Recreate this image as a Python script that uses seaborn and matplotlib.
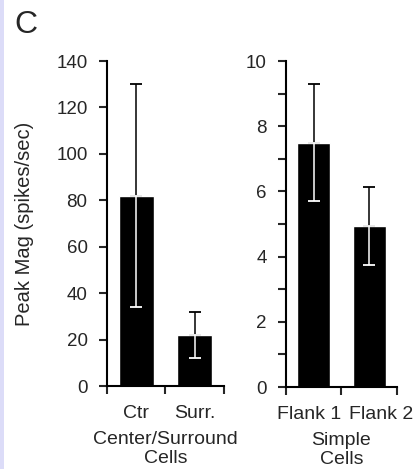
import numpy as np
import pandas as pd
import matplotlib
matplotlib.use("Agg")
import matplotlib.pyplot as plt
import matplotlib.transforms as mtransforms
from matplotlib.patches import Rectangle
import seaborn as sns

# Peak response magnitudes (spikes/sec), mean and error for each cell class
cs_labels = ["Ctr", "Surr."]
cs_means = [82, 22]
cs_errors = [48, 10]

simple_labels = ["Flank 1", "Flank 2"]
simple_means = [7.5, 4.95]
simple_errors = [1.8, 1.2]

cs_yticks = [0, 20, 40, 60, 80, 100, 120, 140]
simple_yticks = [0, 2, 4, 6, 8, 10]
simple_minor_yticks = [1, 3, 5, 7, 9]

sns.set_style("ticks")
plt.rcParams["font.family"] = ["Liberation Sans", "DejaVu Sans"]

fig = plt.figure(figsize=(4.14, 4.69), dpi=100)
fig.patch.set_facecolor("white")
fig.patches.append(Rectangle((0, 0), 4 / 414, 1, transform=fig.transFigure,
                             facecolor="#dcdcf8", edgecolor="none", zorder=0))

ax1 = fig.add_axes([107 / 414, 83 / 469, 117 / 414, 325 / 469])
ax2 = fig.add_axes([286 / 414, 82 / 469, 111 / 414, 326 / 469])


def draw_panel(ax, labels, means, errors, ymax, yticks, xlabel, minor=None, shifts=None):
    df = pd.DataFrame({"cond": labels, "mag": means})
    sns.barplot(data=df, x="cond", y="mag", color="black", saturation=1,
                width=0.6, errorbar=None, ax=ax, zorder=2)
    x = np.arange(len(labels))
    zeros = np.zeros(len(labels))
    # upper half of the error bar in black, lower half (inside the bar) in white
    ax.errorbar(x, means, yerr=[zeros, errors], fmt="none", ecolor="black",
                elinewidth=1.1, capsize=4, capthick=1.3, zorder=3)
    ax.errorbar(x, means, yerr=[errors, zeros], fmt="none", ecolor="white",
                elinewidth=1.1, capsize=4, capthick=1.3, zorder=3)
    ax.set_xlim(-0.5, len(labels) - 0.5)
    ax.set_ylim(0, ymax)
    ax.set_yticks(yticks)
    if minor is not None:
        ax.set_yticks(minor, minor=True)
    # tick marks sit on category boundaries, labels under the bar centres
    ax.set_xticks(np.arange(len(labels) + 1) - 0.5)
    ax.set_xticklabels([])
    ax.set_xticks(x, minor=True)
    ax.set_xticklabels(labels, minor=True)
    ax.tick_params(axis="x", which="minor", length=0, pad=13.5, labelsize=14)
    ax.tick_params(axis="x", which="major", length=6, width=1.5, direction="out")
    ax.tick_params(axis="y", which="major", length=6, width=1.5, direction="out",
                   pad=8, labelsize=13.5)
    ax.tick_params(axis="y", which="minor", length=6, width=1.5, direction="out")
    if shifts is not None:
        for lab, dx in zip(ax.get_xticklabels(minor=True), shifts):
            lab.set_transform(lab.get_transform() +
                              mtransforms.ScaledTranslation(dx / 100, 0, fig.dpi_scale_trans))
    for side in ("top", "right"):
        ax.spines[side].set_visible(False)
    for side in ("left", "bottom"):
        ax.spines[side].set_linewidth(1.5)
        ax.spines[side].set_color("black")
    ax.set_xlabel(xlabel, fontsize=14, linespacing=1.2, labelpad=6.5)
    ax.set_facecolor("none")


draw_panel(ax1, cs_labels, cs_means, cs_errors, 140, cs_yticks,
           "Center/Surround\nCells")
ax1.set_ylabel("Peak Mag (spikes/sec)", fontsize=14.5, labelpad=16)

draw_panel(ax2, simple_labels, simple_means, simple_errors, 10, simple_yticks,
           "Simple\nCells", minor=simple_minor_yticks, shifts=[-5, 11.5])
ax2.set_ylabel("")

fig.text(14 / 414, 1 - 25 / 469, "C", fontsize=23, va="center", ha="left")

fig.savefig("out.png", dpi=100, facecolor="white")
